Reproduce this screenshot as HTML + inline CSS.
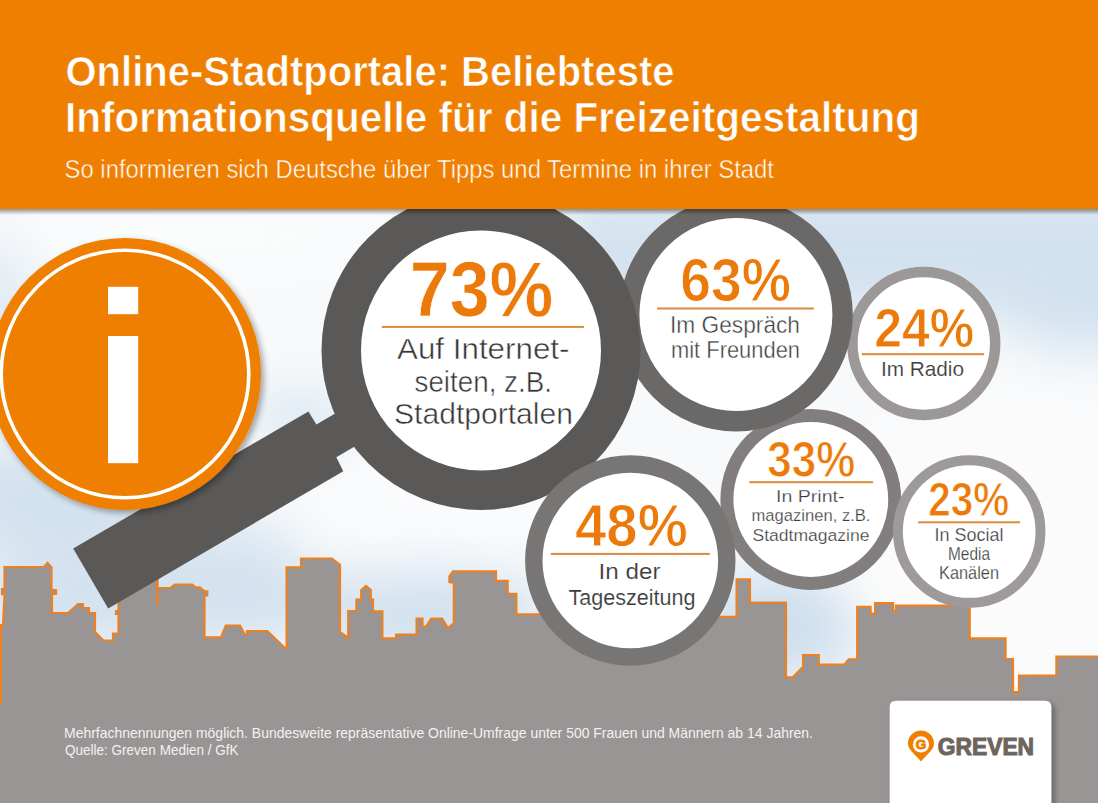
<!DOCTYPE html>
<html><head><meta charset="utf-8">
<style>
html,body{margin:0;padding:0;width:1098px;height:803px;overflow:hidden;background:#fff}
svg{display:block}
text{font-family:"Liberation Sans",sans-serif}
</style></head>
<body>
<svg width="1098" height="803" viewBox="0 0 1098 803">
<defs>
  <radialGradient id="cl1" cx="0.5" cy="0.5" r="0.5"><stop offset="0" stop-color="#fff" stop-opacity="1"/><stop offset="1" stop-color="#fff" stop-opacity="0"/></radialGradient>
  <linearGradient id="hsh" x1="0" y1="0" x2="0" y2="1"><stop offset="0" stop-color="#000" stop-opacity="0.4"/><stop offset="1" stop-color="#000" stop-opacity="0"/></linearGradient>
  <filter id="ds" x="-20%" y="-20%" width="140%" height="140%"><feGaussianBlur in="SourceAlpha" stdDeviation="3"/><feOffset dx="3" dy="3"/><feComponentTransfer><feFuncA type="linear" slope="0.35"/></feComponentTransfer><feMerge><feMergeNode/><feMergeNode in="SourceGraphic"/></feMerge></filter>
  <filter id="blur20"><feGaussianBlur stdDeviation="25"/></filter>
</defs>
<!-- sky -->
<rect x="0" y="0" width="1098" height="803" fill="#f7f9fb"/>
<g filter="url(#blur20)">
  <rect x="560" y="190" width="600" height="125" fill="#d3e2ef"/>
  <ellipse cx="1090" cy="315" rx="90" ry="35" fill="#d3e2ef"/>
  <ellipse cx="640" cy="225" rx="60" ry="35" fill="#d6e4f0"/>
  <ellipse cx="0" cy="320" rx="30" ry="80" fill="#dde8f2"/>
  <ellipse cx="200" cy="235" rx="180" ry="28" fill="#fcfdfd"/>
  <ellipse cx="160" cy="600" rx="220" ry="45" fill="#d3e2ef"/>
  <ellipse cx="430" cy="615" rx="120" ry="45" fill="#d3e2ef"/>
  <ellipse cx="780" cy="625" rx="85" ry="55" fill="#cfdfee"/>
  <ellipse cx="300" cy="420" rx="50" ry="30" fill="#dce8f2"/>
  <ellipse cx="50" cy="500" rx="120" ry="60" fill="#d3e2ef"/>
  <ellipse cx="215" cy="545" rx="80" ry="25" fill="#d8e5f0"/>
  <ellipse cx="440" cy="500" rx="130" ry="35" fill="#fbfcfd"/>
  <ellipse cx="1000" cy="540" rx="170" ry="150" fill="#fbfbfb"/>
</g>
<!-- skyline -->
<path id="sky" fill="#999594" stroke="#ec8123" stroke-width="2.2" stroke-linejoin="miter"
 d="M-5,625 L3,625 L4.5,595 L2,594 L2,589 L4.5,589 L4.5,567 L44,567 L47.5,563 L51.5,567.5 L51.5,590 L56,590 L56,594 L52,594 L52,613 L68,613 L78,604 L83,604 L83,608 L89,608 L89,613 L95,613 L95,632 L103.5,640.5 L113,640.5 L113,633.5 L118.5,633.5 L118.5,614 L116,614 L116,611 L118.5,611 L118.5,560 L157.3,560 L157.3,588 L170.3,588 L175,584.5 L192.2,584.5 L195.6,587.3 L199.7,587.3 L204.5,591.4 L207.3,591.4 L207.3,595.5 L204.5,595.5 L204.5,637.3 L221,637.3 L225.8,625.6 L240,625.6 L244.8,634.5 L247,634.5 L247,631 L267.4,631 L285.2,648.2 L286.6,648 L286.6,567.4 L301,567.4 L301,558.5 L331.8,558.5 L340,564.7 L340,631.8 L348.2,638 L348.2,611.2 L356.4,611.2 L356.4,599.6 L361.2,599.6 L361.2,590 L366,585.9 L370.8,590 L370.8,599.6 L373,599.6 L373,611.4 L382.4,611.4 L382.4,638.4 L396.2,638.4 L396.2,634.7 L416.6,634.7 L416.6,618.7 L422.5,618.7 L422.5,626.7 L426,626.7 L431.2,618.7 L442.1,618.7 L448,628.2 L453.8,623 L453.8,583 L449.4,582 L449.4,576.4 L453,571.3 L496,571.3 L496,580.8 L507.7,580.8 L507.7,593.9 L516.4,593.9 L516.4,614.3 L600,614.3 L720.2,616.8 L736.6,616.8 L736.6,579.4 L750,579.4 L750,602.6 L786,602.6 L786,677.3 L792.7,677.3 L803.1,666.9 L803.1,655 L818.8,655 L818.8,664.6 L844.2,664.6 L848.7,659.4 L857.2,659.4 L857.2,606.9 L870.6,606.9 L870.6,613.6 L875.1,613.6 L875.1,603.2 L893.1,603.2 L893.1,610.6 L896,610.6 L896,605.7 L969.7,605.7 L969.7,638.3 L1005.6,638.3 L1005.6,659.2 L1013,659.2 L1013,692.1 L1019,692.1 L1019,675.7 L1056.4,675.7 L1056.4,656.5 L1105,656.5 L1105,810 L-5,810 Z"/>

<rect x="0" y="624" width="2" height="79" fill="#ec8123"/>
<rect x="156.2" y="578" width="2.2" height="28" fill="#ec8123"/>
<!-- magnifier handle -->
<polygon fill="#5a5958" points="73.2,548.5 308.4,411.5 316.4,424.4 355.2,401.7 375.1,434.6 336.3,457.3 343.3,471.2 108.2,608.4"/>

<!-- info circle -->
<g filter="url(#ds)">
  <circle cx="125" cy="374" r="136" fill="#ee7f00"/>
</g>
<circle cx="125" cy="374" r="123.8" fill="none" stroke="#fff" stroke-width="3.6"/>
<rect x="108" y="286.8" width="30.2" height="27.4" fill="#fff"/>
<rect x="108" y="336" width="30.2" height="127.2" fill="#fff"/>

<!-- circles -->
<circle cx="923.8" cy="343.5" r="71.4" fill="#fff" stroke="#9b9897" stroke-width="10.5"/>
<circle cx="810.8" cy="499.5" r="83.9" fill="#fff" stroke="#817e7d" stroke-width="13"/>
<circle cx="735.9" cy="314.5" r="106.7" fill="#fff" stroke="#6b6968" stroke-width="20.4"/>
<circle cx="969.2" cy="531.5" r="71.3" fill="#fff" stroke="#9d9a99" stroke-width="9.9"/>
<circle cx="481" cy="350.5" r="139.75" fill="#fff" stroke="#5a5958" stroke-width="39.5"/>
<circle cx="630.3" cy="560.5" r="96.5" fill="#fff" stroke="#787675" stroke-width="17.4"/>

<!-- header -->
<rect x="0" y="209" width="1098" height="6" fill="url(#hsh)"/>
<rect x="0" y="0" width="1098" height="209" fill="#ee7f00"/>
<g fill="#fff" font-weight="bold" stroke="#ee7f00" stroke-width="0.7">
  <text id="t1" x="65.5" y="86" font-size="42.5" textLength="609" lengthAdjust="spacingAndGlyphs">Online-Stadtportale: Beliebteste</text>
  <text id="t2" x="65" y="131.7" font-size="42.5" textLength="855" lengthAdjust="spacingAndGlyphs">Informationsquelle für die Freizeitgestaltung</text>
</g>
<text id="st" x="64.5" y="177.9" fill="#fff" font-size="25" textLength="709.5" lengthAdjust="spacingAndGlyphs" stroke="#ee7f00" stroke-width="0.5">So informieren sich Deutsche über Tipps und Termine in ihrer Stadt</text>

<!-- circle texts -->
<g fill="#ec7a0a" font-weight="bold">
  <text id="p73" stroke="#fff" stroke-width="0.7" x="409.8" y="315.7" font-size="78" textLength="143.5" lengthAdjust="spacingAndGlyphs">73%</text>
  <text id="p63" stroke="#fff" stroke-width="1.0" x="680.2" y="300.9" font-size="61.3" textLength="110.7" lengthAdjust="spacingAndGlyphs">63%</text>
  <text id="p24" stroke="#fff" stroke-width="0.9" x="874.25" y="347.15" font-size="56.1" textLength="99.9" lengthAdjust="spacingAndGlyphs">24%</text>
  <text id="p33" stroke="#fff" stroke-width="0.9" x="767.35" y="476.75" font-size="49.66" textLength="87.8" lengthAdjust="spacingAndGlyphs">33%</text>
  <text id="p48" stroke="#fff" stroke-width="1.0" x="575.0" y="546.2" font-size="59.4" textLength="112.7" lengthAdjust="spacingAndGlyphs">48%</text>
  <text id="p23" stroke="#fff" stroke-width="0.9" x="928.25" y="515.95" font-size="47.9" textLength="81.0" lengthAdjust="spacingAndGlyphs">23%</text>
</g>
<g fill="#dc8a3c">
  <rect x="381.8" y="325.9" width="202.2" height="2"/>
  <rect x="657" y="307.5" width="156.8" height="2"/>
  <rect x="861.8" y="353.2" width="122.2" height="2"/>
  <rect x="749.4" y="481.2" width="123.7" height="2"/>
  <rect x="550.8" y="552.9" width="159" height="2"/>
  <rect x="918.1" y="521.3" width="102" height="2"/>
</g>
<g fill="#3c3c3b">
  <g stroke="#fff" stroke-width="0.5" fill="#353535">
  <text id="d73a" x="397.0" y="358.9" font-size="30.3" textLength="172.5" lengthAdjust="spacingAndGlyphs">Auf Internet-</text>
  <text id="d73b" x="414.5" y="391.6" font-size="30.3" textLength="137.5" lengthAdjust="spacingAndGlyphs">seiten, z.B.</text>
  <text id="d73c" x="394.0" y="423.6" font-size="30.3" textLength="179.0" lengthAdjust="spacingAndGlyphs">Stadtportalen</text>
  </g>
  <g stroke="#fff" stroke-width="0.4">
  <text id="d63a" x="670.0" y="332.9" font-size="23.8" textLength="130.0" lengthAdjust="spacingAndGlyphs">Im Gespräch</text>
  <text id="d63b" x="671.0" y="357.9" font-size="23.8" textLength="129.0" lengthAdjust="spacingAndGlyphs">mit Freunden</text>
  </g>
  <g stroke="#fff" stroke-width="0.15">
  <text id="d48a" x="598.5" y="578.7" font-size="22.8" textLength="62.0" lengthAdjust="spacingAndGlyphs">In der</text>
  <text id="d48b" x="568.5" y="604.5" font-size="22.8" textLength="127.0" lengthAdjust="spacingAndGlyphs">Tageszeitung</text>
  <text id="d24" x="881.0" y="375.9" font-size="20.7" textLength="83.0" lengthAdjust="spacingAndGlyphs">Im Radio</text>
  </g>
  <g stroke="#fff" stroke-width="0.25">
  <text id="d33a" x="776.0" y="501.6" font-size="16.8" textLength="68.5" lengthAdjust="spacingAndGlyphs">In Print-</text>
  <text id="d33b" x="751.5" y="521.1" font-size="16.8" textLength="119.0" lengthAdjust="spacingAndGlyphs">magazinen, z.B.</text>
  <text id="d33c" x="752.5" y="541.2" font-size="16.8" textLength="117.0" lengthAdjust="spacingAndGlyphs">Stadtmagazine</text>
  <text id="d23a" x="934.5" y="541.0" font-size="18.2" textLength="69.0" lengthAdjust="spacingAndGlyphs">In Social</text>
  <text id="d23b" x="948.0" y="560.1" font-size="18.2" textLength="42.0" lengthAdjust="spacingAndGlyphs">Media</text>
  <text id="d23c" x="939.0" y="578.9" font-size="18.2" textLength="60.0" lengthAdjust="spacingAndGlyphs">Kanälen</text>
  </g>
</g>

<!-- footer -->
<g fill="#f2f2f2" font-size="14.5">
  <text id="f1" x="64" y="738" textLength="749" lengthAdjust="spacingAndGlyphs">Mehrfachnennungen möglich. Bundesweite repräsentative Online-Umfrage unter 500 Frauen und Männern ab 14 Jahren.</text>
  <text id="f2" x="65" y="755" textLength="173.5" lengthAdjust="spacingAndGlyphs">Quelle: Greven Medien / GfK</text>
</g>

<!-- logo box -->
<g filter="url(#ds)">
  <path d="M889.7,810 L889.7,707 Q889.7,700.8 896,700.8 L1045,700.8 Q1051.3,700.8 1051.3,707 L1051.3,810 Z" fill="#fff"/>
</g>
<path d="M921,761.6 C915,754 907.9,750 907.9,743.6 A13,13 0 0 1 934,743.6 C934,750 927,754 921,761.6 Z" fill="#ee7f00"/>
<circle cx="921" cy="744.4" r="8.1" fill="#fff"/>
<text x="921" y="749" font-size="13.5" font-weight="bold" fill="#ee7f00" stroke="#ee7f00" stroke-width="0.9" text-anchor="middle">G</text>
<text id="logo" x="937.8" y="754.6" font-size="24.8" font-weight="bold" fill="#6d655d" stroke="#6d655d" stroke-width="1.1" textLength="96.3" lengthAdjust="spacingAndGlyphs">GREVEN</text>
</svg>
</body></html>
